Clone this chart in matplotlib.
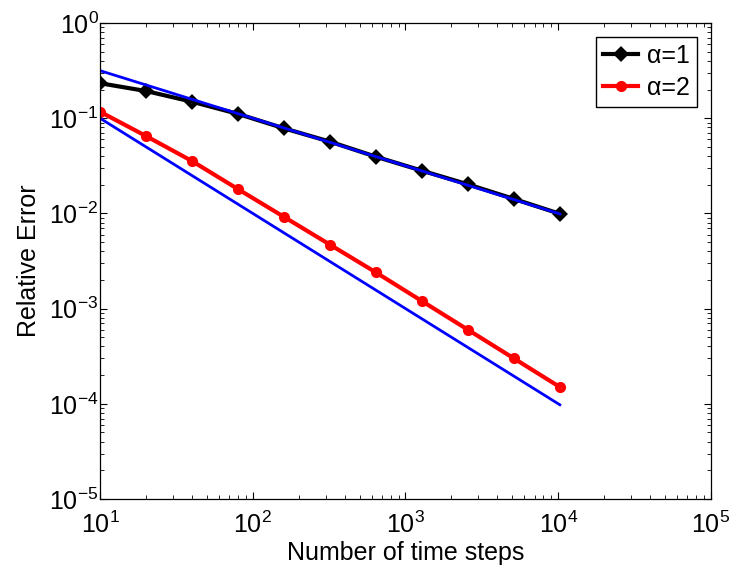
import numpy as np
import matplotlib
matplotlib.use('Agg')
import matplotlib.pyplot as plt
from matplotlib.ticker import LogLocator, NullFormatter

plt.rcParams['font.family'] = 'Liberation Sans'
plt.rcParams['mathtext.fontset'] = 'custom'
plt.rcParams['mathtext.rm'] = 'Liberation Sans'
plt.rcParams['mathtext.it'] = 'Liberation Sans:italic'
plt.rcParams['mathtext.default'] = 'regular'

# number of time steps
steps = [10, 20, 40, 80, 160, 320, 640, 1280, 2560, 5120, 10240]
# relative error, alpha = 1 and alpha = 2
err_a1 = [0.233, 0.193, 0.149, 0.111, 0.0783, 0.0567, 0.0394, 0.0281, 0.0202, 0.0142, 0.0099]
err_a2 = [0.117, 0.065, 0.0355, 0.018, 0.0092, 0.0047, 0.0024, 0.0012, 0.0006, 0.0003, 0.00015]
# reference slopes (order 1/2 and order 1)
ref_x = [10, 10240]
ref_half = [0.316, 0.00988]
ref_one = [0.1, 9.77e-5]

fig = plt.figure(figsize=(7.34, 5.72), dpi=100)
ax = fig.add_axes([0.1362, 0.1276, 0.8325, 0.8322])

ax.loglog(steps, err_a1, '-D', color='black', lw=3, ms=5.5, mew=3,
          mfc='none', mec='black', label='α=1')
ax.loglog(steps, err_a2, '-o', color='red', lw=3, ms=5, mew=3,
          mfc='none', mec='red', label='α=2')
ax.loglog(ref_x, ref_half, '-', color='blue', lw=2)
ax.loglog(ref_x, ref_one, '-', color='blue', lw=2)

ax.set_xlim(10, 1e5)
ax.set_ylim(1e-5, 1)
ax.xaxis.set_major_locator(LogLocator(base=10, numticks=10))
ax.yaxis.set_major_locator(LogLocator(base=10, numticks=10))
ax.xaxis.set_minor_locator(LogLocator(base=10, subs=np.arange(2, 10), numticks=20))
ax.yaxis.set_minor_locator(LogLocator(base=10, subs=np.arange(2, 10), numticks=20))
ax.xaxis.set_minor_formatter(NullFormatter())
ax.yaxis.set_minor_formatter(NullFormatter())
ax.tick_params(which='both', direction='in', top=True, right=True, labelsize=18)
ax.tick_params(which='major', length=5, width=0.8)
ax.tick_params(which='minor', length=3, width=0.6)
ax.tick_params(axis='x', which='major', pad=9)
ax.tick_params(axis='y', which='major', pad=1)
for s in ax.spines.values():
    s.set_linewidth(0.9)

ax.set_xlabel('Number of time steps', fontsize=18, labelpad=2)
ax.set_ylabel('Relative Error', fontsize=18, labelpad=6)

leg = ax.legend(loc='upper right', fontsize=18, fancybox=False, framealpha=1,
                edgecolor='black', handlelength=1.4, handletextpad=0.35,
                borderpad=0.3, labelspacing=0.3, borderaxespad=0.55)
leg.get_frame().set_linewidth(1.0)

fig.savefig('out.png', dpi=100)
